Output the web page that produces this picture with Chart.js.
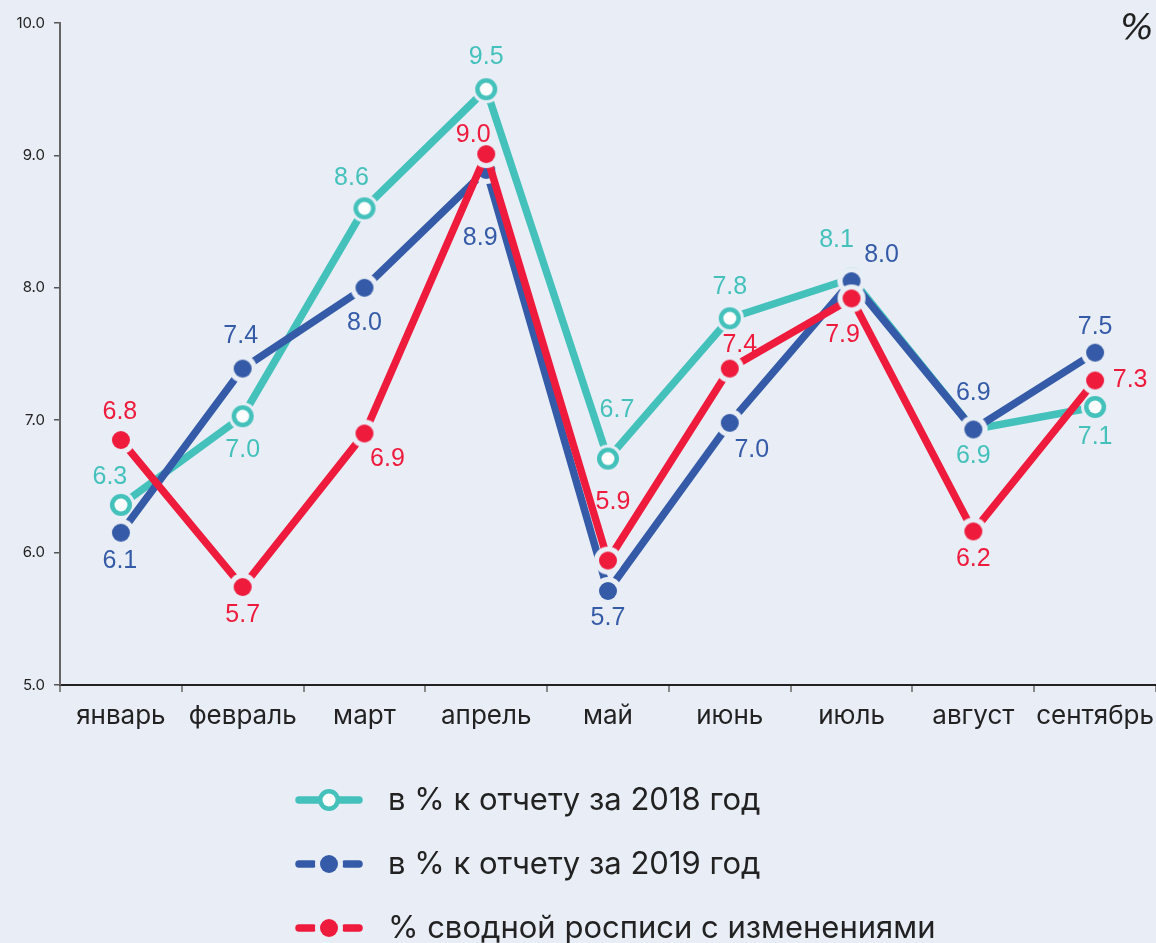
<!DOCTYPE html>
<html>
<head>
<meta charset="utf-8">
<script src="https://cdn.jsdelivr.net/npm/chart.js@4"></script>
<style>
  html, body { margin: 0; padding: 0; background: #e9eef6; }
  #wrap { width: 1156px; height: 943px; position: relative; overflow: hidden; }
</style>
</head>
<body>
<div id="wrap"><canvas id="chart"></canvas></div>
<script>
const months = ["январь", "февраль", "март", "апрель", "май", "июнь", "июль", "август", "сентябрь"];

const report2018 = [6.36, 7.03, 8.6, 9.5, 6.71, 7.77, 8.07, 6.93, 7.1];
const report2019 = [6.15, 7.39, 8.0, 8.89, 5.71, 6.98, 8.05, 6.93, 7.51];
const summary = [6.85, 5.74, 6.9, 9.01, 5.94, 7.39, 7.92, 6.16, 7.3];

const labels2018 = ["6.3", "7.0", "8.6", "9.5", "6.7", "7.8", "8.1", "6.9", "7.1"];
const labels2019 = ["6.1", "7.4", "8.0", "8.9", "5.7", "7.0", "8.0", "6.9", "7.5"];
const labelsSummary = ["6.8", "5.7", "6.9", "9.0", "5.9", "7.4", "7.9", "6.2", "7.3"];

const yTicks = [5, 6, 7, 8, 9, 10];

const BG = "#e9eef6";
const TEAL = "#45c1bc";
const BLUE = "#355ba8";
const RED = "#ee1b3d";

// маркеры с "ореолом" цвета фона
function makeMarker(color, hollow, halo) {
  const c = document.createElement("canvas");
  c.width = 30; c.height = 30;
  const g = c.getContext("2d");
  if (halo) {
    g.fillStyle = BG;
    g.beginPath(); g.arc(15, 15, 14, 0, Math.PI * 2); g.fill();
  }
  g.fillStyle = color;
  g.beginPath(); g.arc(15, 15, hollow ? 11 : 9, 0, Math.PI * 2); g.fill();
  if (hollow) {
    g.fillStyle = "#ffffff";
    g.beginPath(); g.arc(15, 15, 6.5, 0, Math.PI * 2); g.fill();
  }
  return c;
}

// смещения подписей (dx, dy) относительно точки
const labelOffsets = [
  [[-11, -28], [0, 34], [-13, -30], [0, -32], [9, -48], [0, -31], [-15, -38], [0, 27], [0, 30]],
  [[-1, 28], [-2, -32], [0, 35], [-6, 68], [0, 27], [22, 27], [30, -26], [0, -36], [0, -26]],
  [[-1, -28], [0, 28], [23, 26], [-13, -19], [5, -58], [10, -23], [-9, 37], [0, 28], [35, 0]]
];
const labelTexts = [labels2018, labels2019, labelsSummary];

const pointLabels = {
  id: "pointLabels",
  afterDatasetsDraw(chart) {
    const ctx = chart.ctx;
    ctx.save();
    ctx.font = "25px 'Liberation Sans', Arial, sans-serif";
    ctx.textAlign = "center";
    ctx.textBaseline = "middle";
    chart.data.datasets.forEach((ds, i) => {
      const meta = chart.getDatasetMeta(i);
      ctx.fillStyle = ds.borderColor;
      meta.data.forEach((pt, j) => {
        const off = labelOffsets[i][j];
        ctx.fillText(labelTexts[i][j], pt.x + off[0], pt.y + off[1]);
      });
    });
    ctx.restore();
  }
};

const markers = [makeMarker(TEAL, true, true), makeMarker(BLUE, false, true), makeMarker(RED, false, true)];
const legendMarkers = [makeMarker(TEAL, true, false), makeMarker(BLUE, false, true), makeMarker(RED, false, true)];

const extras = {
  id: "extras",
  afterDraw(chart) {
    const ctx = chart.ctx;
    ctx.save();
    // знак процента
    ctx.fillStyle = "#222";
    ctx.font = "italic 36px 'DejaVu Sans', sans-serif";
    ctx.textAlign = "right";
    ctx.textBaseline = "middle";
    ctx.fillText("%", 1154, 30);

    // легенда
    const rows = [800, 864, 928];
    const names = chart.data.datasets.map(d => d.label);
    const colors = [TEAL, BLUE, RED];
    ctx.lineCap = "round";
    ctx.lineWidth = 7.5;
    rows.forEach((y, i) => {
      ctx.strokeStyle = colors[i];
      if (i === 0) {
        ctx.beginPath(); ctx.moveTo(299, y); ctx.lineTo(359, y); ctx.stroke();
      } else {
        ctx.beginPath(); ctx.moveTo(299, y); ctx.lineTo(313, y); ctx.stroke();
        ctx.beginPath(); ctx.moveTo(345, y); ctx.lineTo(359, y); ctx.stroke();
      }
      ctx.drawImage(legendMarkers[i], 329 - 15, y - 15);
      ctx.fillStyle = "#222";
      ctx.font = "31px Inter, sans-serif";
      ctx.textAlign = "left";
      ctx.fillText(names[i], 388, y + 1);
    });
    ctx.restore();
  }
};

new Chart(document.getElementById("chart").getContext("2d"), {
  type: "line",
  data: {
    labels: months,
    datasets: [
      { label: "в % к отчету за 2018 год", data: report2018, borderColor: TEAL, borderWidth: 7.5, pointStyle: markers[0], order: 2 },
      { label: "в % к отчету за 2019 год", data: report2019, borderColor: BLUE, borderWidth: 7.5, pointStyle: markers[1], order: 1 },
      { label: "% сводной росписи с изменениями", data: summary, borderColor: RED, borderWidth: 7.5, pointStyle: markers[2], order: 0 }
    ]
  },
  options: {
    responsive: true,
    maintainAspectRatio: false,
    animation: false,
    events: [],
    layout: { autoPadding: false, padding: { top: 23, right: 0, left: 0, bottom: 0 } },
    plugins: { legend: { display: false }, tooltip: { enabled: false } },
    scales: {
      x: {
        offset: true,
        grid: { display: true, drawOnChartArea: false, offset: true, tickLength: 7, color: "#888", lineWidth: 2 },
        border: { color: "#222", width: 2 },
        ticks: { color: "#222", font: { family: "Inter", size: 26 }, padding: 9, maxRotation: 0, autoSkip: false },
        afterFit(scale) { scale.height = 258; scale.paddingRight = 0; scale.paddingLeft = 0; }
      },
      y: {
        min: 5,
        max: 10,
        afterBuildTicks(scale) { scale.ticks = yTicks.map(v => ({ value: v })); },
        grid: { display: true, drawOnChartArea: false, tickLength: 6, color: "#555", lineWidth: 1.5 },
        border: { color: "#666", width: 2 },
        ticks: { color: "#222", font: { family: "Inter", size: 15 }, padding: 9, callback: v => v.toFixed(1) },
        afterFit(scale) { scale.width = 60; }
      }
    }
  },
  plugins: [pointLabels, extras]
});
</script>
</body>
</html>
